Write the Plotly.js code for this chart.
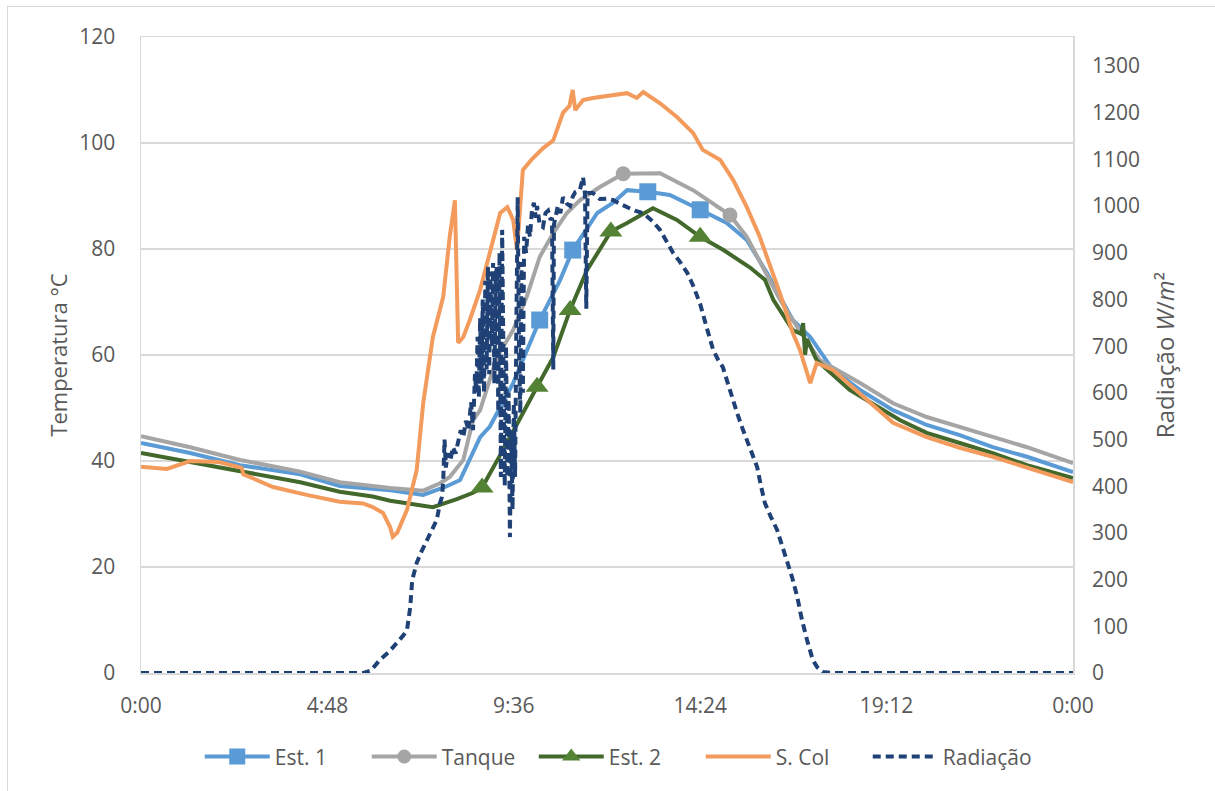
<!DOCTYPE html>
<html>
<head>
<meta charset="utf-8">
<script src="https://cdn.plot.ly/plotly-3.0.1.min.js"></script>
<style>
  html, body { margin: 0; padding: 0; background: #fff; }
  #chart { width: 1215px; height: 791px; position: absolute; left: 0; top: 0; }
  #frame { position: absolute; left: 7px; top: 6px; width: 1230px; height: 800px;
           border: 1.5px solid #D9D9D9; pointer-events: none; }
</style>
</head>
<body>
<div id="chart"></div>
<div id="frame"></div>
<script>
// ---- axis ticks ----
const tickMinutes = [0, 288, 576, 864, 1152, 1440];
const tickLabels = ['0:00', '4:48', '9:36', '14:24', '19:12', '0:00'];
const radTicks = [0, 100, 200, 300, 400, 500, 600, 700, 800, 900, 1000, 1100, 1200, 1300];

// ---- Est. 1 (°C) ----
const est1Time = [0, 76, 153, 246, 307, 385, 436, 470, 493, 524, 539, 575, 616, 647, 667, 705, 729, 751, 783, 817, 864, 905, 936, 967, 1007, 1034, 1069, 1111, 1162, 1214, 1265, 1316, 1369, 1440];
const est1Temp = [43.4, 41.5, 39.2, 37.5, 35.3, 34.5, 33.6, 35.1, 36.4, 44.5, 46.5, 54.7, 66.6, 74.0, 79.8, 86.8, 88.7, 91.1, 90.8, 90.2, 87.4, 84.9, 81.7, 75.5, 66.6, 63.4, 57.2, 53.4, 49.6, 46.8, 44.9, 42.6, 40.8, 37.9];
const est1Marks = [616, 667, 783, 864];

// ---- Tanque (°C) ----
const tankTime = [0, 76, 153, 246, 307, 385, 436, 462, 477, 498, 513, 524, 550, 575, 596, 616, 637, 658, 678, 709, 745, 802, 853, 910, 936, 961, 987, 1018, 1049, 1111, 1162, 1214, 1265, 1316, 1369, 1440];
const tankTemp = [44.7, 42.6, 40.2, 38.0, 36.0, 34.9, 34.4, 35.8, 37.0, 40.2, 47.7, 49.6, 59.6, 64.7, 71.0, 78.5, 83.0, 86.8, 89.2, 91.7, 94.2, 94.3, 91.1, 86.4, 82.3, 76.6, 70.5, 64.5, 59.0, 54.7, 50.9, 48.3, 46.4, 44.5, 42.6, 39.6];
const tankMarks = [745, 910];

// ---- Est. 2 (°C) ----
const est2Time = [0, 76, 153, 246, 307, 358, 385, 436, 451, 488, 513, 527, 559, 612, 637, 663, 689, 726, 751, 791, 828, 864, 900, 941, 964, 977, 1007, 1020, 1023, 1026, 1029, 1044, 1095, 1173, 1214, 1265, 1316, 1369, 1440];
const est2Temp = [41.5, 39.8, 37.9, 36.0, 34.2, 33.3, 32.5, 31.5, 31.3, 32.8, 34.0, 35.0, 42.0, 54.0, 59.6, 68.5, 76.0, 83.3, 84.9, 87.7, 85.5, 82.3, 79.8, 76.5, 74.2, 70.4, 64.7, 64.0, 66.0, 60.0, 63.0, 59.0, 53.4, 47.7, 45.3, 43.4, 41.5, 39.2, 36.8];
const est2Marks = [527, 612, 663, 726, 864];

// ---- S. Col (°C) ----
const scolTime = [0, 40, 76, 120, 153, 156, 158, 204, 256, 307, 343, 358, 374, 385, 389, 396, 411, 426, 436, 451, 467, 477, 485, 488, 490, 498, 508, 524, 539, 555, 566, 575, 581, 586, 590, 603, 612, 621, 637, 647, 652, 662, 667, 671, 683, 698, 725, 751, 766, 776, 802, 828, 853, 868, 895, 915, 936, 956, 987, 1007, 1018, 1026, 1034, 1044, 1069, 1122, 1162, 1214, 1265, 1316, 1369, 1440];
const scolTemp = [38.9, 38.5, 40.0, 39.8, 38.8, 38.6, 37.5, 35.1, 33.6, 32.3, 32.0, 31.3, 30.2, 27.5, 25.7, 26.5, 30.8, 38.3, 50.9, 63.4, 71.0, 82.3, 89.2, 76.0, 62.3, 63.4, 66.6, 72.3, 79.2, 86.8, 87.9, 85.5, 79.8, 88.7, 94.9, 96.8, 98.0, 99.0, 100.5, 104.0, 105.7, 107.0, 110.0, 106.2, 108.1, 108.5, 109.0, 109.4, 108.5, 109.6, 107.5, 104.9, 101.9, 98.7, 96.8, 93.0, 87.9, 82.3, 71.7, 64.2, 61.0, 57.5, 54.7, 58.5, 57.2, 51.5, 47.2, 44.5, 42.5, 40.8, 38.7, 36.0];

// ---- Radiação (W/m²) ----
const radTime = [0, 120, 240, 344, 355, 369, 383, 396, 405, 411, 414, 416, 419, 426, 434, 442, 450, 457, 462, 465, 467, 469, 471, 474, 478, 482, 486, 490, 494, 498, 502, 506, 510, 513, 516, 518, 520, 522, 524, 526, 528, 530, 532, 534, 536, 538, 540, 542, 544, 546, 548, 550, 552, 554, 556, 558, 560, 562, 564, 566, 568, 570, 572, 574, 576, 578, 580, 582, 584, 586, 588, 590, 592, 595, 598, 601, 604, 607, 610, 612, 616, 621, 625, 629, 633, 635, 637, 638, 644, 648, 652, 658, 663, 667, 671, 678, 683, 686, 688, 690, 698, 709, 720, 729, 740, 751, 763, 776, 790, 802, 812, 822, 833, 844, 853, 864, 874, 884, 892, 899, 905, 913, 921, 929, 936, 944, 952, 958, 964, 973, 983, 990, 998, 1006, 1014, 1021, 1029, 1034, 1038, 1045, 1054, 1069, 1200, 1440];
const radValue = [0, 0, 0, 0, 5, 28, 45, 64, 80, 92, 120, 141, 199, 236, 262, 285, 305, 328, 364, 377, 413, 500, 440, 470, 455, 484, 470, 500, 520, 505, 540, 520, 580, 520, 640, 600, 720, 590, 760, 620, 800, 600, 840, 650, 870, 640, 860, 700, 878, 620, 850, 870, 560, 900, 420, 949, 600, 400, 700, 420, 600, 291, 520, 350, 578, 420, 750, 1019, 700, 557, 880, 600, 934, 900, 960, 934, 990, 1007, 975, 1000, 960, 955, 985, 990, 970, 975, 650, 960, 1000, 985, 1019, 1005, 1000, 1020, 1030, 1034, 1062, 1025, 780, 1028, 1028, 1015, 1016, 1013, 1005, 998, 990, 985, 968, 949, 925, 900, 880, 857, 830, 790, 740, 692, 670, 655, 628, 590, 557, 525, 499, 470, 441, 400, 364, 335, 306, 275, 242, 205, 163, 115, 71, 45, 28, 12, 2, 0, 0, 0];

const FONT = 'Open Sans, Noto Sans, sans-serif';
const TXT = '#595959';
const GRID = '#D9D9D9';
const LW = 4;

const C_EST1 = '#5B9BD5', C_TANK = '#A5A5A5', C_EST2L = '#43682B', C_EST2M = '#548235',
      C_SCOL = '#F29B5C', C_RAD = '#1F4176';

function markSizes(times, marks, size) {
  return times.map(t => marks.includes(t) ? size : 0);
}

const traces = [
  {
    name: 'Est. 1', x: est1Time, y: est1Temp, type: 'scatter', mode: 'lines+markers', showlegend: false,
    line: { color: C_EST1, width: LW },
    marker: { symbol: 'square', color: C_EST1, opacity: 1, line: { width: 0 }, size: markSizes(est1Time, est1Marks, 17) }
  },
  {
    name: 'Tanque', x: tankTime, y: tankTemp, type: 'scatter', mode: 'lines+markers', showlegend: false,
    line: { color: C_TANK, width: LW },
    marker: { symbol: 'circle', color: C_TANK, opacity: 1, line: { width: 0 }, size: markSizes(tankTime, tankMarks, 15) }
  },
  {
    name: 'Est. 2', x: est2Time, y: est2Temp, type: 'scatter', mode: 'lines+markers', showlegend: false,
    line: { color: C_EST2L, width: LW },
    marker: { symbol: 'triangle-up', color: C_EST2M, opacity: 1, line: { width: 0 }, size: markSizes(est2Time, est2Marks, 20) }
  },
  {
    name: 'S. Col', x: scolTime, y: scolTemp, type: 'scatter', mode: 'lines', showlegend: false,
    line: { color: C_SCOL, width: LW }
  },
  {
    name: 'Radiação', x: radTime, y: radValue, type: 'scatter', mode: 'lines', yaxis: 'y2', showlegend: false,
    line: { color: C_RAD, width: LW, dash: '8px,5px' }
  },
  // legend entries
  { name: 'Est. 1', x: [null], y: [null], type: 'scatter', mode: 'lines+markers',
    line: { color: C_EST1, width: LW }, marker: { symbol: 'square', color: C_EST1, size: 16 } },
  { name: 'Tanque', x: [null], y: [null], type: 'scatter', mode: 'lines+markers',
    line: { color: C_TANK, width: LW }, marker: { symbol: 'circle', color: C_TANK, size: 14 } },
  { name: 'Est. 2', x: [null], y: [null], type: 'scatter', mode: 'lines+markers',
    line: { color: C_EST2L, width: LW }, marker: { symbol: 'triangle-up', color: C_EST2M, size: 16 } },
  { name: 'S. Col', x: [null], y: [null], type: 'scatter', mode: 'lines',
    line: { color: C_SCOL, width: LW } },
  { name: 'Radiação', x: [null], y: [null], type: 'scatter', mode: 'lines', yaxis: 'y2',
    line: { color: C_RAD, width: LW, dash: '8px,5px' } }
];

const layout = {
  width: 1215, height: 791,
  margin: { l: 141, r: 142, t: 37, b: 118 },
  paper_bgcolor: '#fff', plot_bgcolor: '#fff',
  font: { family: FONT, color: TXT, size: 21 },
  showlegend: true,
  legend: {
    orientation: 'h', x: 0.511, xanchor: 'center', y: -0.132, yanchor: 'middle',
    font: { family: FONT, size: 21, color: TXT }, itemsizing: 'trace', traceorder: 'normal',
    itemwidth: 65, entrywidth: 87
  },
  xaxis: {
    range: [0, 1440], tickvals: tickMinutes, ticktext: tickLabels,
    showgrid: false, zeroline: false, showline: true, linecolor: GRID, linewidth: 1.5, mirror: true,
    ticks: '', ticklabelstandoff: 13, tickfont: { family: FONT, size: 21, color: TXT }
  },
  yaxis: {
    range: [0, 120], dtick: 20, tick0: 0,
    showgrid: true, gridcolor: GRID, gridwidth: 1.5, zeroline: false,
    showline: true, linecolor: GRID, linewidth: 1.5, mirror: true,
    ticks: '', ticklabelstandoff: 20, tickfont: { family: FONT, size: 21, color: TXT },
    title: { text: 'Temperatura °C', font: { family: FONT, size: 22, color: TXT }, standoff: 5 }
  },
  yaxis2: {
    overlaying: 'y', side: 'right',
    range: [0, 1362.1], tickvals: radTicks,
    showgrid: false, zeroline: false, showline: false,
    ticks: '', ticklabelstandoff: 18, tickfont: { family: FONT, size: 21, color: TXT },
    title: { text: 'Radiação <i>W</i>/<i>m</i>²', font: { family: FONT, size: 24, color: TXT }, standoff: 18 }
  }
};

Plotly.newPlot('chart', traces, layout, { displayModeBar: false, staticPlot: true });
</script>
</body>
</html>
